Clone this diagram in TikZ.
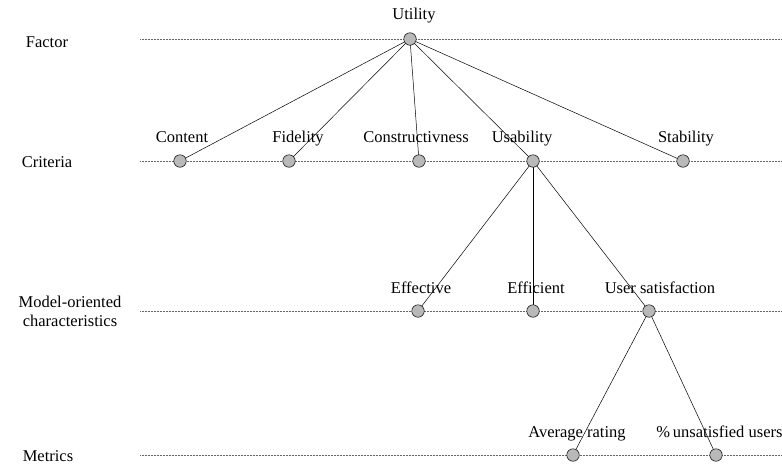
\documentclass[tikz,border=0pt]{standalone}
\usepackage{fontspec}
\setmainfont{Liberation Serif}
\begin{document}
\begin{tikzpicture}[x=1pt,y=-1pt,
  dot/.style={circle,draw=black,line width=0.5pt,fill=gray!55,minimum size=12.5pt,inner sep=0pt},
  lbl/.style={font=\fontsize{16.5}{19}\selectfont,inner sep=0pt,anchor=base},
  level/.style={gray!80!black,line width=0.5pt,densely dotted},
  edge/.style={black,line width=0.5pt}]
\useasboundingbox (0,0) rectangle (782,464);
% level labels
\node[lbl] (lf) at (47,47) {Factor};
\node[lbl] (lc) at (47,167) {Criteria};
\node[lbl,align=center,anchor=center] (lm) at (70,311) {Model-oriented\\characteristics};
\node[lbl] (lx) at (48,461) {Metrics};
% level lines
\coordinate (f0) at (140,39); \coordinate (f1) at (782,39);
\coordinate (c0) at (140,161); \coordinate (c1) at (782,161);
\coordinate (m0) at (140,311); \coordinate (m1) at (782,311);
\coordinate (x0) at (140,455); \coordinate (x1) at (782,455);
\draw[level] (f0) -- (f1);
\draw[level] (c0) -- (c1);
\draw[level] (m0) -- (m1);
\draw[level] (x0) -- (x1);
% node positions
\coordinate (u) at (410,39);
\coordinate (c) at (180,161);
\coordinate (fi) at (289,161);
\coordinate (co) at (419,161);
\coordinate (us) at (533,161);
\coordinate (st) at (683,161);
\coordinate (ef) at (418,311);
\coordinate (ec) at (533,311);
\coordinate (sa) at (649,311);
\coordinate (ar) at (573,455);
\coordinate (pu) at (716,455);
% text labels
\node[lbl] (tu) at (414,19) {Utility};
\node[lbl] (tc) at (182,142) {Content};
\node[lbl] (tfi) at (298,142) {Fidelity};
\node[lbl] (tco) at (416,142) {Constructivness};
\node[lbl] (tus) at (522,142) {Usability};
\node[lbl] (tst) at (686,142) {Stability};
\node[lbl] (tef) at (421,293) {Effective};
\node[lbl] (tec) at (536,293) {Efficient};
\node[lbl] (tsa) at (660,293) {User satisfaction};
\node[lbl] (tar) at (577,437) {Average rating};
\node[lbl] (tpu) at (719.5,437) {\%\,unsatisfied users};
\foreach \a/\b in {u/c,u/fi,u/co,u/us,u/st,us/ef,us/ec,us/sa,sa/ar,sa/pu}
  \draw[edge] (\a) -- (\b);
% dots
\foreach \n in {u,c,fi,co,us,st,ef,ec,sa,ar,pu}
  \node[dot] (d\n) at (\n) {};
\end{tikzpicture}
\end{document}
